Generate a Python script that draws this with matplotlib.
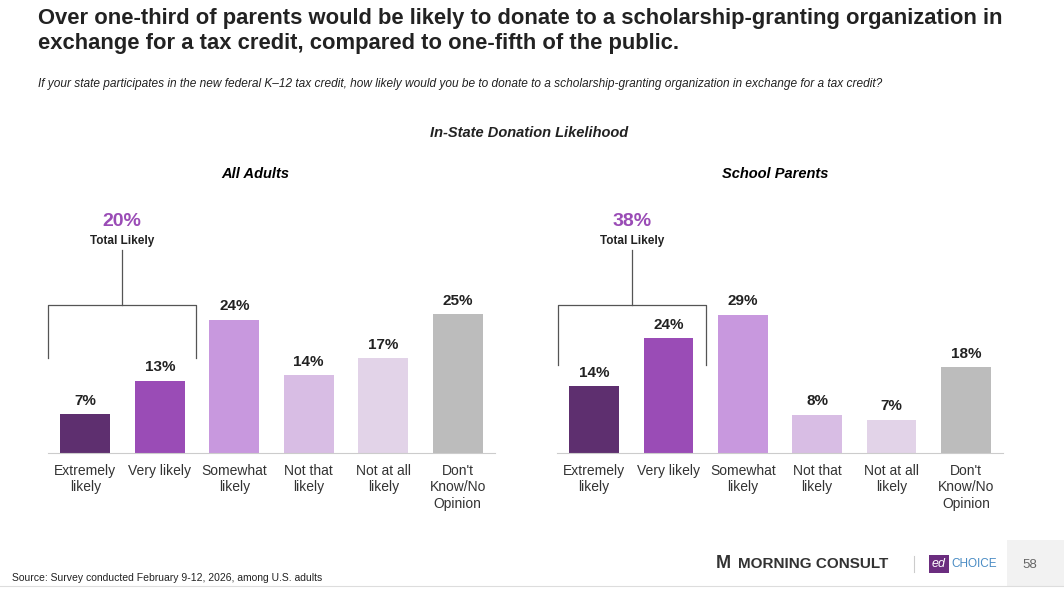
import matplotlib.pyplot as plt
from matplotlib.patches import Rectangle

plt.rcParams["font.family"] = ["Liberation Sans", "DejaVu Sans"]

categories = ["Extremely\nlikely", "Very likely", "Somewhat\nlikely", "Not that\nlikely",
              "Not at all\nlikely", "Don't\nKnow/No\nOpinion"]
all_adults = [7, 13, 24, 14, 17, 25]
school_parents = [14, 24, 29, 8, 7, 18]
colors = ["#5e2f6f", "#9a4cb6", "#c898de", "#d8bde4", "#e2d3e8", "#bcbcbc"]
W, H = 1064, 601

fig = plt.figure(figsize=(W / 100, H / 100), dpi=100, facecolor="white")

def px_axes(x0, y0, x1, y1):
    return fig.add_axes((x0 / W, 1 - y1 / H, (x1 - x0) / W, (y1 - y0) / H))

def panel(x0, x1, vals, ymax):
    ax = px_axes(x0, 200, x1, 453)
    pos = range(len(vals))
    ax.bar(pos, vals, width=0.67, color=colors)
    for p, v in zip(pos, vals):
        ax.text(p, v + ymax * 0.025, f"{v}%", ha="center", va="bottom",
                fontsize=11, fontweight="bold", color="#222222")
    ax.set_xlim(-0.5, len(vals) - 0.5)
    ax.set_ylim(0, ymax)
    ax.set_xticks(list(pos))
    ax.set_xticklabels(categories, fontsize=10, color="#333333", va="top")
    ax.tick_params(axis="x", length=0, pad=8)
    ax.set_yticks([])
    for s in ["top", "left", "right"]:
        ax.spines[s].set_visible(False)
    ax.spines["bottom"].set_color("#cccccc")
    return ax

panel(48, 495, all_adults, 45.5)
panel(557, 1003, school_parents, 53)

ov = fig.add_axes((0, 0, 1, 1))
ov.set_xlim(0, W)
ov.set_ylim(H, 0)
ov.axis("off")
ov.patch.set_alpha(0)

ov.text(38, 31, "Over one-third of parents would be likely to donate to a scholarship-granting organization in\n"
        "exchange for a tax credit, compared to one-fifth of the public.",
        fontsize=15.8, fontweight="bold", color="#222222", va="center", linespacing=1.3)
ov.text(38, 84, "If your state participates in the new federal K–12 tax credit, how likely would you be to donate "
        "to a scholarship-granting organization in exchange for a tax credit?",
        fontsize=8.6, style="italic", color="#222222", va="center")
ov.text(529, 133, "In-State Donation Likelihood", fontsize=10.5, fontweight="bold", style="italic",
        ha="center", va="center", color="#222222")
ov.text(255, 174, "All Adults", fontsize=10.5, fontweight="bold", style="italic", ha="center", va="center")
ov.text(775, 174, "School Parents", fontsize=10.5, fontweight="bold", style="italic", ha="center", va="center")

for (xl, xr, xs, yb, pct) in [(48, 196, 122, 358, "20%"), (558, 706, 632, 365, "38%")]:
    ov.plot([xl, xl, xr, xr], [yb, 305, 305, yb], color="#555555", lw=0.9)
    ov.plot([xs, xs], [305, 250], color="#555555", lw=0.9)
    ov.text(xs, 222, pct, color="#9a4cb6", fontsize=14, fontweight="bold", ha="center", va="center")
    ov.text(xs, 241, "Total Likely", color="#222222", fontsize=8.5, fontweight="bold", ha="center", va="center")

ov.text(12, 578, "Source: Survey conducted February 9-12, 2026, among U.S. adults", fontsize=7.5,
        color="#222222", va="center")
ov.plot([0, W], [586, 586], color="#dddddd", lw=0.8)
ov.add_patch(Rectangle((1007, 540), 57, 46, color="#f2f2f2", lw=0))
ov.text(1030, 565, "58", fontsize=9.5, color="#666666", ha="center", va="center")
ov.text(716, 564, "M", fontsize=13, fontweight="bold", color="#333333", va="center")
ov.text(738, 564, "MORNING CONSULT", fontsize=11, fontweight="bold", color="#333333", va="center")
ov.plot([914, 914], [556, 572], color="#cccccc", lw=0.8)
ov.add_patch(Rectangle((929, 555), 20, 18, color="#6b2d7f", lw=0))
ov.text(939, 564, "ed", fontsize=9, style="italic", color="white", ha="center", va="center")
ov.text(951, 564, "CHOICE", fontsize=8.5, color="#4a8cc4", va="center")

fig.savefig("out.png", dpi=100, facecolor="white")
